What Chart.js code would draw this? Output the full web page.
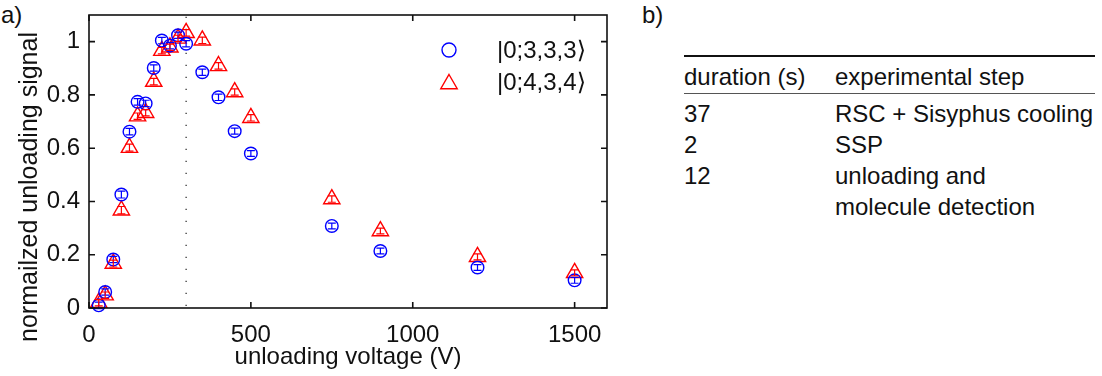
<!DOCTYPE html>
<html>
<head>
<meta charset="utf-8">
<script src="https://cdn.jsdelivr.net/npm/chart.js@4"></script>
<style>
    html, body { margin: 0; padding: 0; background: #fff; }
    body {
        width: 1102px; height: 376px; position: relative; overflow: hidden;
        font-family: "Liberation Sans", Arial, sans-serif; color: #111;
    }
    #wrap { position: absolute; left: 0; top: 0; width: 640px; height: 376px; }
    .panel { position: absolute; font-size: 24px; line-height: 1; }
    #steps {
        position: absolute; left: 684px; top: 55px; width: 411px;
        border-collapse: collapse; font-size: 24px; line-height: 31px;
    }
    #steps td, #steps th { padding: 0; text-align: left; font-weight: normal; vertical-align: top; white-space: nowrap; }
    #steps thead tr { border-top: 2px solid #111; border-bottom: 1px solid #555; }
    #steps thead th { padding-top: 4px; padding-bottom: 1px; }
    #steps tbody tr:first-child td { padding-top: 4px; }
    #steps .c1 { width: 151px; }
</style>
</head>
<body>
<div class="panel" style="left:1px; top:3px;">a)</div>
<div class="panel" style="left:642px; top:3px;">b)</div>
<div id="wrap"><canvas id="unloadChart" width="640" height="376"></canvas></div>

<table id="steps">
    <thead>
        <tr><th class="c1">duration (s)</th><th>experimental step</th></tr>
    </thead>
    <tbody id="stepRows"></tbody>
</table>

<script>
// unloading voltages (V), same for both states
const voltages = [30, 50, 75, 100, 125, 150, 175, 200, 225, 250, 275, 300, 350, 400, 450, 500, 750, 900, 1200, 1500];

// |0;3,3,3> (blue circles)
const signal333 = [0.01, 0.06, 0.182, 0.426, 0.662, 0.774, 0.768, 0.901, 1.004, 0.985, 1.024, 0.992, 0.885, 0.791, 0.664, 0.580, 0.308, 0.214, 0.152, 0.104];
const error333  = [0.012, 0.012, 0.012, 0.013, 0.012, 0.012, 0.012, 0.012, 0.012, 0.012, 0.012, 0.012, 0.012, 0.012, 0.011, 0.011, 0.011, 0.011, 0.011, 0.011];

// |0;4,3,4> (red triangles)
const signal434 = [0.02, 0.048, 0.167, 0.367, 0.602, 0.72, 0.733, 0.850, 0.966, 0.979, 1.012, 1.033, 1.005, 0.909, 0.811, 0.714, 0.409, 0.289, 0.192, 0.132];
const error434  = [0.012, 0.012, 0.013, 0.014, 0.013, 0.012, 0.012, 0.012, 0.012, 0.012, 0.012, 0.012, 0.012, 0.012, 0.012, 0.012, 0.012, 0.011, 0.011, 0.011];

const seriesLabels = ['|0;3,3,3\u27E9', '|0;4,3,4\u27E9'];
const xTicks = [0, 500, 1000, 1500];
const yTicks = [0, 0.2, 0.4, 0.6, 0.8, 1];
const markerVoltage = 300;   // dotted line

// table b)
const stepDurations = ['37', '2', '12'];
const stepNames = ['RSC + Sisyphus cooling', 'SSP', 'unloading and<br>molecule detection'];

const rowsEl = document.getElementById('stepRows');
stepDurations.forEach((d, i) => {
    const tr = document.createElement('tr');
    tr.innerHTML = '<td class="c1">' + d + '</td><td>' + stepNames[i] + '</td>';
    rowsEl.appendChild(tr);
});

const FONT = "'Liberation Sans', 'DejaVu Sans', Arial, sans-serif";
const INK = '#111';
const FSIZE = 24;

function toPoints(xs, ys) {
    return xs.map((x, i) => ({ x: x, y: ys[i] }));
}

// box round the plot with ticks pointing inwards, plus the dotted line
const axesBox = {
    id: 'axesBox',
    beforeDatasetsDraw(chart) {
        const { ctx, chartArea: a, scales: { x } } = chart;
        const xp = x.getPixelForValue(markerVoltage);
        ctx.save();
        ctx.strokeStyle = '#333';
        ctx.lineWidth = 1.3;
        ctx.setLineDash([1.3, 10.7]);
        ctx.beginPath();
        ctx.moveTo(xp, a.bottom - 2);
        ctx.lineTo(xp, a.top);
        ctx.stroke();
        ctx.restore();
    },
    afterDraw(chart) {
        const { ctx, chartArea: a, scales: { x, y } } = chart;
        const tl = 6;
        ctx.save();
        ctx.strokeStyle = INK;
        ctx.lineWidth = 1.6;
        ctx.strokeRect(a.left, a.top, a.right - a.left, a.bottom - a.top);
        ctx.beginPath();
        xTicks.forEach(v => {
            const p = x.getPixelForValue(v);
            ctx.moveTo(p, a.bottom); ctx.lineTo(p, a.bottom - tl);
            ctx.moveTo(p, a.top); ctx.lineTo(p, a.top + tl);
        });
        yTicks.forEach(v => {
            const p = y.getPixelForValue(v);
            ctx.moveTo(a.left, p); ctx.lineTo(a.left + tl, p);
            ctx.moveTo(a.right, p); ctx.lineTo(a.right - tl, p);
        });
        ctx.stroke();

        // y title, centred a bit lower than the axis like the original
        ctx.fillStyle = INK;
        ctx.font = '25px ' + FONT;
        ctx.textAlign = 'center';
        ctx.textBaseline = 'middle';
        ctx.translate(30, 187);
        ctx.rotate(-Math.PI / 2);
        ctx.fillText('normailzed unloading signal', 0, 0);
        ctx.restore();
    }
};

// small error bars drawn on top of the markers
const errorBars = {
    id: 'errorBars',
    afterDatasetsDraw(chart) {
        const { ctx, scales: { y } } = chart;
        chart.data.datasets.forEach((ds, di) => {
            const meta = chart.getDatasetMeta(di);
            ctx.save();
            ctx.strokeStyle = ds.borderColor;
            ctx.lineWidth = 1.2;
            ctx.beginPath();
            meta.data.forEach((pt, i) => {
                const v = ds.data[i].y;
                const e = ds.errors[i];
                const top = y.getPixelForValue(v + e);
                const bot = y.getPixelForValue(v - e);
                ctx.moveTo(pt.x, top); ctx.lineTo(pt.x, bot);
                ctx.moveTo(pt.x - 4, top); ctx.lineTo(pt.x + 4, top);
                ctx.moveTo(pt.x - 4, bot); ctx.lineTo(pt.x + 4, bot);
            });
            ctx.stroke();
            ctx.restore();
        });
    }
};

// legend inside the plot, top right
const insideLegend = {
    id: 'insideLegend',
    afterDraw(chart) {
        const { ctx, chartArea: a } = chart;
        ctx.save();
        chart.data.datasets.forEach((ds, i) => {
            const cy = a.top + 35 + i * 32;
            const mx = a.right - 158;
            ctx.strokeStyle = ds.borderColor;
            ctx.fillStyle = 'rgba(0,0,0,0)';
            ctx.lineWidth = ds.pointBorderWidth;
            Chart.helpers.drawPoint(ctx, {
                pointStyle: ds.pointStyle, radius: ds.pointStyle === 'circle' ? 7 : 9.5,
                borderWidth: ds.pointBorderWidth, rotation: 0
            }, mx, cy + (ds.pointStyle === 'triangle' ? 2 : 0));
            ctx.fillStyle = INK;
            ctx.font = FSIZE + 'px ' + FONT;
            ctx.textAlign = 'left';
            ctx.textBaseline = 'middle';
            ctx.fillText(ds.label, a.right - 110, cy + 1);
        });
        ctx.restore();
    }
};

new Chart(document.getElementById('unloadChart'), {
    type: 'scatter',
    data: {
        datasets: [{
            label: seriesLabels[0],
            data: toPoints(voltages, signal333),
            errors: error333,
            pointStyle: 'circle',
            pointRadius: 6.3,
            pointBorderWidth: 1.4,
            borderColor: '#0000ff',
            backgroundColor: 'rgba(0,0,0,0)',
            clip: false
        }, {
            label: seriesLabels[1],
            data: toPoints(voltages, signal434),
            errors: error434,
            pointStyle: 'triangle',
            pointRadius: 9.4,
            pointBorderWidth: 1.4,
            borderColor: '#ff0000',
            backgroundColor: 'rgba(0,0,0,0)',
            clip: false
        }]
    },
    options: {
        responsive: false,
        animation: false,
        devicePixelRatio: 1,
        layout: { padding: { left: 0, top: 15, right: 33, bottom: 0 } },
        plugins: {
            legend: { display: false },
            tooltip: { enabled: false }
        },
        scales: {
            x: {
                type: 'linear',
                position: 'bottom',
                min: 0,
                max: 1600,
                grid: { display: false, drawTicks: false },
                border: { display: false },
                afterBuildTicks: s => { s.ticks = xTicks.map(v => ({ value: v })); },
                afterFit: s => { s.height = 68; s.paddingLeft = 0; s.paddingRight = 0; },
                ticks: {
                    color: INK, padding: 13, maxRotation: 0,
                    font: { family: FONT, size: FSIZE },
                    callback: v => String(v)
                },
                title: {
                    display: true,
                    text: 'unloading voltage (V)',
                    color: INK,
                    font: { family: FONT, size: FSIZE },
                    padding: { top: 0, bottom: 4 }
                }
            },
            y: {
                type: 'linear',
                min: 0,
                max: 1.1,
                grid: { display: false, drawTicks: false },
                border: { display: false },
                afterBuildTicks: s => { s.ticks = yTicks.map(v => ({ value: v })); },
                afterFit: s => { s.width = 89; s.paddingTop = 0; s.paddingBottom = 0; },
                ticks: {
                    color: INK, padding: 9,
                    font: { family: FONT, size: FSIZE },
                    callback: v => String(Math.round(v * 10) / 10)
                }
            }
        }
    },
    plugins: [axesBox, errorBars, insideLegend]
});
</script>
</body>
</html>
